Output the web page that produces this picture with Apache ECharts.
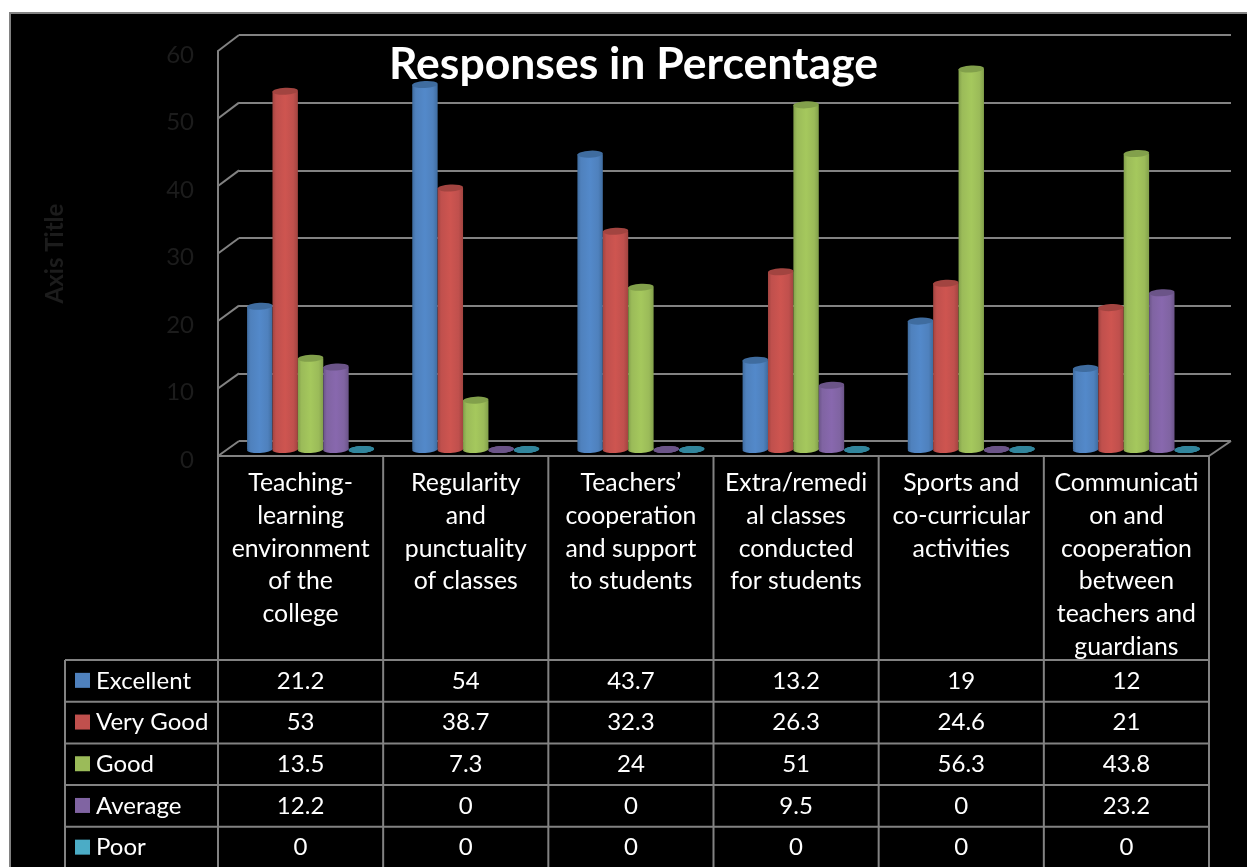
<!DOCTYPE html>
<html>
<head>
<meta charset="utf-8">
<style>html,body{margin:0;padding:0;background:#fff;overflow:hidden}#c{width:1247px;height:867px}</style>
<script src="https://cdn.jsdelivr.net/npm/echarts@6/dist/echarts.min.js"></script>
</head>
<body>
<div id="c"></div>
<script>
const categories = [
  "Teaching-\nlearning\nenvironment\nof the\ncollege",
  "Regularity\nand\npunctuality\nof classes",
  "Teachers’\ncooperation\nand support\nto students",
  "Extra/remedi\nal classes\nconducted\nfor students",
  "Sports and\nco-curricular\nactivities",
  "Communicati\non and\ncooperation\nbetween\nteachers and\nguardians"
];
const seriesNames = ["Excellent", "Very Good", "Good", "Average", "Poor"];
const excellent = [21.2, 54, 43.7, 13.2, 19, 12];
const veryGood = [53, 38.7, 32.3, 26.3, 24.6, 21];
const good = [13.5, 7.3, 24, 51, 56.3, 43.8];
const average = [12.2, 0, 0, 9.5, 0, 23.2];
const poor = [0, 0, 0, 0, 0, 0];
const yTicks = [0, 10, 20, 30, 40, 50, 60];

const seriesValues = [excellent, veryGood, good, average, poor];
const colors = ["#4F81BD", "#C0504D", "#9BBB59", "#8064A2", "#4BACC6"];
const lights = ["#5389CA", "#CE5550", "#A5C85D", "#8868AE", "#50B8D4"];
const darks = ["#3F6C9F", "#A24440", "#82A04B", "#6B5488", "#31859C"];

const FONT = "Lato";
const GRID = "#828282";
const LINE_W = 2;
const front = {left: 218, right: 1209, top: 51, bottom: 456};
const back = {left: 239, right: 1231, top: 35, bottom: 441};
const table = {left: 65, top: 660, rowH: 41.7, end: 867};
const bandW = (front.right - front.left) / categories.length;
const BAR_W = 25.4, CAP_H = 7;

const graphics = [];
function ln(x1, y1, x2, y2) {
  graphics.push({type: "line", z: 1, silent: true,
    shape: {x1, y1, x2, y2}, style: {stroke: GRID, lineWidth: LINE_W}});
}
function tx(x, y, text, align) {
  graphics.push({type: "text", z: 3, silent: true, x, y,
    style: {text, fill: "#fff", font: "24px " + FONT, textAlign: align, textVerticalAlign: "middle"}});
}
graphics.push({type: "rect", z: -1, silent: true,
  shape: {x: 10, y: 13, width: 1247, height: 867},
  style: {fill: "#000", stroke: GRID, lineWidth: LINE_W}});
// perspective walls
const step = (front.bottom - front.top) / (yTicks.length - 1);
yTicks.forEach((t, i) => {
  const y = front.bottom - i * step;
  ln(front.left, y, back.left, back.bottom - i * (back.bottom - back.top) / (yTicks.length - 1));
});
ln(front.right, front.bottom, back.right, back.bottom);
ln(front.left, front.bottom, front.right, front.bottom);
// data table
for (let i = 0; i <= categories.length; i++) ln(front.left + i * bandW, front.bottom, front.left + i * bandW, table.end);
ln(table.left, table.top, table.left, table.end);
seriesNames.forEach((name, r) => {
  const y = table.top + r * table.rowH;
  ln(table.left, y, front.right, y);
  const cy = y + table.rowH / 2;
  graphics.push({type: "rect", z: 3, silent: true,
    shape: {x: 75, y: cy - 8, width: 15, height: 15}, style: {fill: colors[r]}});
  tx(96, cy, name, "left");
  seriesValues[r].forEach((v, c) => tx(front.left + (c + 0.5) * bandW, cy, String(v), "center"));
});

const barGrid = {left: (front.left + back.left) / 2 - 0.5, width: front.right - front.left, top: 44, height: 405.5};
const series = [];
seriesNames.forEach((name, i) => {
  const grad = {type: "linear", x: 0, y: 0, x2: 1, y2: 0, colorStops: [
    {offset: 0, color: darks[i]}, {offset: 0.14, color: colors[i]},
    {offset: 0.5, color: lights[i]}, {offset: 0.82, color: colors[i]}, {offset: 1, color: darks[i]}]};
  series.push({type: "pictorialBar", name: name + " base", xAxisIndex: 1, yAxisIndex: 0, z: 2,
    data: seriesValues[i], symbol: "circle", symbolSize: [BAR_W, CAP_H], symbolRotate: 3,
    symbolPosition: "start", symbolOffset: [0, "50%"], barWidth: BAR_W, barGap: 0,
    itemStyle: {color: grad}, silent: true});
  series.push({type: "bar", name, xAxisIndex: 0, yAxisIndex: 0, z: 3,
    data: seriesValues[i], barWidth: BAR_W, barGap: 0,
    itemStyle: {color: grad}, silent: true});
  series.push({type: "pictorialBar", name: name + " cap", xAxisIndex: 0, yAxisIndex: 0, z: 4,
    data: seriesValues[i], symbol: "circle", symbolSize: [BAR_W, CAP_H], symbolRotate: 3,
    symbolPosition: "end", symbolOffset: [0, "-50%"], barWidth: BAR_W, barGap: 0,
    itemStyle: {color: darks[i]}, silent: true});
});

const chart = echarts.init(document.getElementById("c"));
const hiddenCat = {type: "category", data: categories, show: false};
const valueBase = {type: "value", min: 0, max: 60, interval: 10};
chart.setOption({
  animation: false,
  backgroundColor: "#fff",
  textStyle: {fontFamily: FONT},
  title: {text: "Responses in Percentage", left: 628.5, top: 37, textAlign: "center",
    textStyle: {color: "#fff", fontFamily: FONT, fontWeight: "bold", fontSize: 44.5}},
  grid: [
    barGrid,
    {left: back.left, width: back.right - back.left, top: back.top, height: back.bottom - back.top},
    {left: front.left, width: front.right - front.left, top: front.top, height: front.bottom - front.top}
  ],
  xAxis: [
    Object.assign({gridIndex: 0}, hiddenCat),
    Object.assign({gridIndex: 0}, hiddenCat),
    Object.assign({gridIndex: 1}, hiddenCat),
    {type: "category", gridIndex: 2, data: categories,
      axisLine: {show: false}, axisTick: {show: false},
      axisLabel: {interval: 0, color: "#fff", fontFamily: FONT, fontSize: 24.8, lineHeight: 32.7, margin: 11, verticalAlign: "top"}}
  ],
  yAxis: [
    Object.assign({gridIndex: 0, show: false}, valueBase),
    Object.assign({gridIndex: 1, axisLine: {show: false}, axisTick: {show: false}, axisLabel: {show: false},
      splitLine: {lineStyle: {color: GRID, width: LINE_W}}}, valueBase),
    Object.assign({gridIndex: 2, splitLine: {show: false}, axisTick: {show: false},
      axisLine: {show: true, lineStyle: {color: GRID, width: LINE_W}},
      name: "Axis Title", nameLocation: "middle", nameGap: 151,
      nameTextStyle: {color: "#1C1C1C", fontFamily: FONT, fontWeight: "bold", fontSize: 24},
      axisLabel: {color: "#1C1C1C", fontFamily: FONT, fontSize: 24, margin: 24, verticalAlign: "top", lineHeight: 8}}, valueBase)
  ],
  series,
  graphic: {elements: graphics}
});
</script>
</body>
</html>
